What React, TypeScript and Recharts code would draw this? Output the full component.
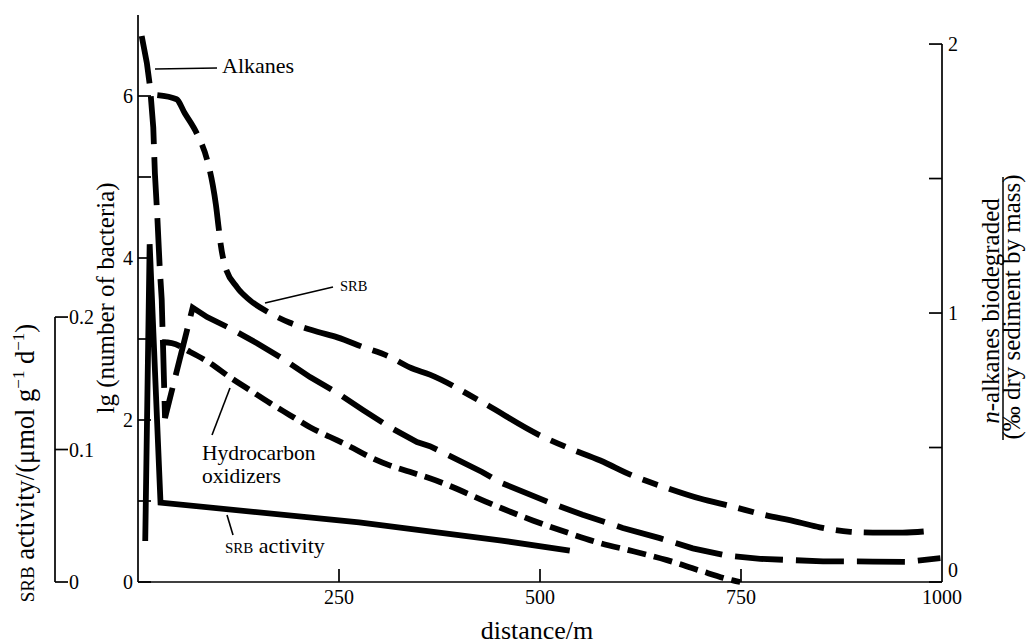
import React from 'react';
import { LineChart, Line, XAxis, YAxis } from 'recharts';

const W = 1027;
const H = 644;
const PLOT_H = 567;
const FONT = '"Liberation Serif", "Times New Roman", serif';

const LEFT_TOP = 7;
const RIGHT_TOP = 2.108;
const SRB_TOP = 0.428;

// distance (m) and value pairs
const alkanesDist = [4.6, 11, 15, 19, 21, 24, 27, 29.5, 30.5, 31.2, 33.6, 68, 86, 114, 148, 177, 214, 248, 280, 313, 347, 363, 428, 450, 512, 553, 603, 649, 690, 733, 774, 852, 914, 956, 998];
const alkanesVal = [2.03, 1.93, 1.84, 1.69, 1.52, 1.36, 1.17, 1.05, 0.94, 0.87, 0.61, 1.02, 0.985, 0.944, 0.888, 0.836, 0.762, 0.703, 0.639, 0.576, 0.52, 0.505, 0.409, 0.371, 0.295, 0.25, 0.201, 0.163, 0.125, 0.098, 0.086, 0.077, 0.076, 0.075, 0.089];

const srbDist = [24, 48, 58, 73, 86, 93, 97, 100, 103, 108, 123, 139, 164, 189, 223, 248, 280, 313, 338, 363, 428, 500, 534, 575, 616, 658, 699, 740, 774, 821, 848, 886, 914, 951, 985];
const srbVal = [6.01, 5.96, 5.79, 5.54, 5.21, 4.9, 4.65, 4.4, 4.16, 3.91, 3.64, 3.48, 3.32, 3.2, 3.09, 3.02, 2.9, 2.78, 2.65, 2.56, 2.22, 1.81, 1.66, 1.5, 1.31, 1.16, 1.03, 0.93, 0.84, 0.74, 0.675, 0.62, 0.61, 0.61, 0.63];

const hcoDist = [30, 42, 65, 90, 114, 139, 164, 189, 214, 239, 264, 289, 313, 338, 363, 450, 491, 534, 575, 616, 658, 699, 740, 749];
const hcoVal = [2.96, 2.95, 2.84, 2.7, 2.53, 2.37, 2.21, 2.06, 1.91, 1.79, 1.67, 1.54, 1.44, 1.36, 1.28, 0.92, 0.76, 0.61, 0.48, 0.38, 0.27, 0.14, 0.02, 0];

const activityDist = [9, 14.5, 28, 275, 450, 537];
const activityVal = [0.031, 0.255, 0.06, 0.045, 0.0315, 0.0236];

const xTicks = [250, 500, 750, 1000];
const leftTicks = [0, 1, 2, 3, 4, 5, 6];
const rightTicks = [0, 0.5, 1, 1.5, 2];
const srbTicks = [0, 0.1, 0.2];

const zip = (d: number[], v: number[]) => d.map((x, i) => ({ d: x, v: v[i] }));

const alkanes = zip(alkanesDist, alkanesVal);
const srb = zip(srbDist, srbVal);
const hco = zip(hcoDist, hcoVal);
const activity = zip(activityDist, activityVal);

const ink = '#000';
const axisW = 1.7;

const MainTick = ({ x, y, payload }: any) => (
  <g>
    <line x1={x} x2={x + 13} y1={y} y2={y} stroke={ink} strokeWidth={axisW} />
    {payload.value % 2 === 0 && (
      <text x={x - 5} y={y + 7} textAnchor="end" fontFamily={FONT} fontSize={20} fill={ink}>
        {payload.value}
      </text>
    )}
  </g>
);

const SrbTick = ({ x, y, payload }: any) => (
  <g>
    <line x1={x} x2={x + 13} y1={y} y2={y} stroke={ink} strokeWidth={axisW} />
    {payload.value === 0.2 && (
      <line x1={x} x2={x} y1={y} y2={y + (0.2 * PLOT_H) / SRB_TOP} stroke={ink} strokeWidth={axisW} />
    )}
    <text x={x + 14} y={y + 7} fontFamily={FONT} fontSize={20} fill={ink}>
      {payload.value}
    </text>
  </g>
);

const RightTick = ({ x, y, payload }: any) => {
  const v = payload.value;
  return (
    <g>
      <line x1={x - 13} x2={x} y1={y} y2={y} stroke={ink} strokeWidth={axisW} />
      {v === 2 && (
        <line x1={x} x2={x} y1={y} y2={y + (2 * PLOT_H) / RIGHT_TOP} stroke={ink} strokeWidth={axisW} />
      )}
      {Number.isInteger(v) && (
        <text x={x + 6} y={v === 0 ? y - 5 : y + 7} fontFamily={FONT} fontSize={20} fill={ink}>
          {v}
        </text>
      )}
    </g>
  );
};

const XTick = ({ x, y, payload }: any) => (
  <g>
    {payload.value < 1000 && <line x1={x} x2={x} y1={y} y2={y - 13} stroke={ink} strokeWidth={axisW} />}
    <text x={x} y={y + 22} textAnchor="middle" fontFamily={FONT} fontSize={20} fill={ink}>
      {payload.value}
    </text>
  </g>
);

const Notes = () => (
  <g fontFamily={FONT} fill={ink}>
    <line x1={155} y1={69} x2={217} y2={68} stroke={ink} strokeWidth={1.6} />
    <text x={222} y={73} fontSize={22}>Alkanes</text>

    <line x1={265} y1={303} x2={333} y2={287} stroke={ink} strokeWidth={1.6} />
    <text x={340} y={291} fontSize={14.5}>SRB</text>

    <line x1={230} y1={388} x2={212} y2={435} stroke={ink} strokeWidth={1.6} />
    <text x={202} y={460} fontSize={21.5}>Hydrocarbon</text>
    <text x={202} y={483} fontSize={21.5}>oxidizers</text>

    <line x1={227} y1={515} x2={233} y2={535} stroke={ink} strokeWidth={1.6} />
    <text x={225} y={553} fontSize={22}>
      <tspan fontSize={15}>SRB</tspan> activity
    </text>

    <text x={537} y={639} textAnchor="middle" fontSize={26}>distance/m</text>

    <text transform="translate(114,298) rotate(-90)" textAnchor="middle" fontSize={25}>
      lg (number of bacteria)
    </text>

    <text transform="translate(34,463) rotate(-90)" textAnchor="middle" fontSize={26.5}>
      <tspan fontSize={19}>SRB</tspan> activity/(μmol g<tspan dy={-10} fontSize={17}>−1</tspan>
      <tspan dy={10}> d</tspan>
      <tspan dy={-10} fontSize={17}>−1</tspan>
      <tspan dy={10}>)</tspan>
    </text>

    <text transform="translate(999,311) rotate(-90)" textAnchor="middle" fontSize={25}>
      <tspan fontStyle="italic">n</tspan>-alkanes biodegraded
    </text>
    <line x1={1003} x2={1003} y1={177} y2={440} stroke={ink} strokeWidth={1.5} />
    <text transform="translate(1020,307) rotate(-90)" textAnchor="middle" fontSize={25}>
      (‰ dry sediment by mass)
    </text>
  </g>
);

export default function App() {
  return (
    <div style={{ position: 'absolute', left: 0, top: 0, width: W, height: H, background: '#fff' }}>
      <LineChart width={W} height={H} margin={{ top: 15, right: 0, bottom: 0, left: 0 }}>
        <XAxis
          type="number"
          dataKey="d"
          domain={[0, 1000]}
          ticks={xTicks}
          interval={0}
          height={62}
          tickSize={0}
          tickMargin={0}
          tickLine={false}
          axisLine={{ stroke: ink, strokeWidth: axisW }}
          tick={<XTick />}
        />
        <YAxis
          yAxisId="left"
          orientation="left"
          domain={[0, LEFT_TOP]}
          ticks={leftTicks}
          interval={0}
          width={83}
          tickSize={0}
          tickMargin={0}
          tickLine={false}
          axisLine={{ stroke: ink, strokeWidth: axisW }}
          tick={<MainTick />}
        />
        <YAxis
          yAxisId="srb"
          orientation="left"
          domain={[0, SRB_TOP]}
          ticks={srbTicks}
          interval={0}
          width={55}
          tickSize={0}
          tickMargin={0}
          tickLine={false}
          axisLine={false}
          tick={<SrbTick />}
        />
        <YAxis
          yAxisId="right"
          orientation="right"
          domain={[0, RIGHT_TOP]}
          ticks={rightTicks}
          interval={0}
          width={85}
          tickSize={0}
          tickMargin={0}
          tickLine={false}
          axisLine={false}
          tick={<RightTick />}
        />
        <Line
          yAxisId="right"
          data={alkanes}
          dataKey="v"
          type="linear"
          stroke={ink}
          strokeWidth={5.8}
          strokeDasharray="48 13"
          dot={false}
          activeDot={false}
          isAnimationActive={false}
        />
        <Line
          yAxisId="left"
          data={srb}
          dataKey="v"
          type="monotone"
          stroke={ink}
          strokeWidth={5.8}
          strokeDasharray="60 12 16 12"
          dot={false}
          activeDot={false}
          isAnimationActive={false}
        />
        <Line
          yAxisId="left"
          data={hco}
          dataKey="v"
          type="monotone"
          stroke={ink}
          strokeWidth={5.8}
          strokeDasharray="19 8"
          dot={false}
          activeDot={false}
          isAnimationActive={false}
        />
        <Line
          yAxisId="srb"
          data={activity}
          dataKey="v"
          type="linear"
          stroke={ink}
          strokeWidth={5.8}
          dot={false}
          activeDot={false}
          isAnimationActive={false}
        />
        <Notes />
      </LineChart>
    </div>
  );
}
